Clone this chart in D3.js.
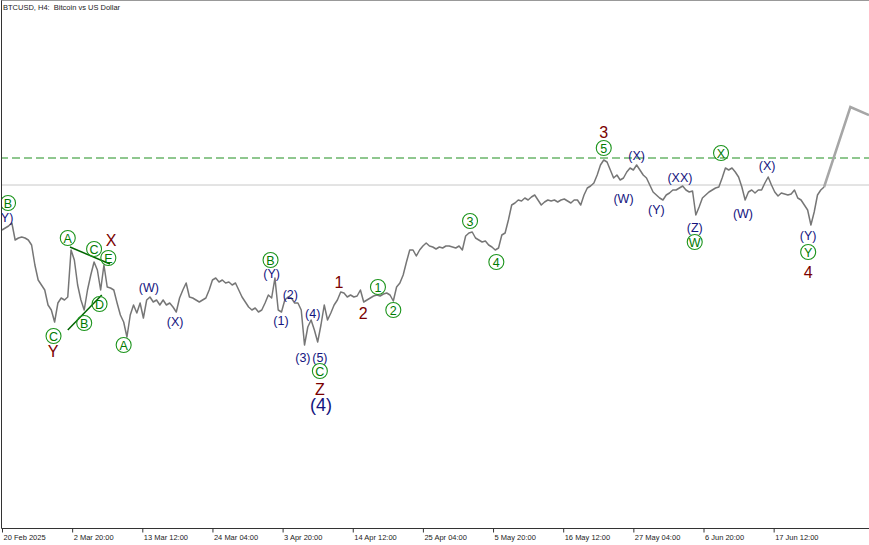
<!DOCTYPE html>
<html>
<head>
<meta charset="utf-8">
<script src="https://cdn.jsdelivr.net/npm/d3@7"></script>
<style>
html, body { margin: 0; padding: 0; background: #fff; }
svg { display: block; font-family: "Liberation Sans", Arial, sans-serif; }
</style>
</head>
<body>
<svg id="chart" width="869" height="545"></svg>
<script>
// BTCUSD H4, one close read every 3 bars (12h) from the first bar
const startTime = new Date(2025, 1, 20, 4, 0);
const barHours = 4;
const closeStep = 3;

const closes = [
    97600, 98000, 98400, 99000, 95600, 96000, 96200, 96000, 95600, 94600,
    90600, 87600, 86600, 85600, 82600, 81600, 79200, 83000, 84000, 83600,
    84200, 93600, 91600, 86600, 83600, 81600, 85600, 88600, 91200, 89600,
    85600, 90600, 86200, 86000, 85600, 83000, 80600, 79200, 76200, 80600,
    82600, 81000, 83000, 80000, 83600, 84200, 83200, 83600, 82600, 83600,
    82600, 83000, 82200, 81200, 84000, 85600, 87000, 84200, 84000, 83600,
    83200, 83600, 84000, 85600, 87600, 88000, 87200, 87600, 87000, 87200,
    86600, 87000, 85600, 84200, 83200, 82200, 81600, 82000, 81200, 81600,
    83000, 84600, 84000, 88000, 81600, 81200, 83600, 84200, 84000, 83000,
    83000, 81600, 74600, 78200, 79600, 77600, 75200, 78600, 82600, 79600,
    81000, 82600, 83600, 85200, 85000, 84200, 84600, 84200, 84400, 85600,
    83200, 83600, 84000, 84400, 84600, 84400, 84800, 85000, 84600, 83400,
    86200, 87000, 88600, 91200, 93600, 93600, 92400, 93600, 94400, 95000,
    94400, 94200, 93800, 94200, 94000, 94400, 94400, 94200, 94000, 94400,
    93600, 96400, 97000, 97200, 96000, 95600, 95200, 95400, 94600, 94200,
    93600, 94000, 96600, 97000, 99600, 102600, 103000, 103600, 103400, 104000,
    103600, 104200, 104600, 103600, 102600, 103200, 103600, 103400, 103600, 103200,
    103600, 103800, 103400, 103000, 103600, 103600, 102600, 104600, 106000, 106400,
    107000, 108600, 110600, 111600, 111200, 109600, 108000, 108600, 107600, 108000,
    109200, 110000, 109600, 110600, 109600, 108600, 108000, 106600, 105200, 104600,
    104000, 103600, 104600, 105000, 105600, 105600, 106000, 106400, 105600, 105200,
    105400, 100600, 102200, 104000, 104600, 105200, 105600, 106000, 106200, 108000,
    110000, 109600, 110000, 109200, 108200, 106200, 103600, 105200, 105600, 105000,
    105600, 105600, 107000, 108200, 106600, 105200, 104400, 105000, 104800, 104600,
    104800, 105600, 104000, 103600, 102600, 101600, 98600, 101200, 104600, 105600, 106200
];

// projected path after the last close (bar index, price)
const forecastBars = [774, 791];
const forecastPrices = [122200, 120600];

const currentPrice = 106600;
const resistancePrice = 112000;

const tickBars = [0, 64, 128, 192, 256, 320, 384, 448, 512, 576, 640, 704];
const tickLabels = ["20 Feb 2025", "2 Mar 20:00", "13 Mar 12:00", "24 Mar 04:00", "3 Apr 20:00",
    "14 Apr 12:00", "25 Apr 04:00", "5 May 20:00", "16 May 12:00", "27 May 04:00",
    "6 Jun 20:00", "17 Jun 12:00"];

// wave marks: text, bar, price, degree
const waveLabels = [
    ["B", 5.5, 103000, "circle"], ["(Y)", 2.7, 100200, "paren"],
    ["A", 60, 96000, "circle"], ["C", 84, 93800, "circle"], ["E", 97, 92000, "circle"],
    ["X", 99.5, 95600, "red"], ["D", 89, 82800, "circle"], ["B", 75, 79000, "circle"],
    ["C", 47, 76400, "circle"], ["Y", 46.5, 73400, "red"], ["A", 111, 74600, "circle"],
    ["(W)", 134, 86200, "paren"], ["(X)", 158, 79400, "paren"],
    ["B", 245, 91600, "circle"], ["(Y)", 246, 89000, "paren"],
    ["(1)", 254.5, 79600, "paren"], ["(2)", 263, 84800, "paren"], ["(3)", 274.5, 72200, "paren"],
    ["(4)", 283.5, 81000, "paren"], ["(5)", 290, 72200, "paren"],
    ["C", 290, 69400, "circle"], ["Z", 290, 65800, "red"], ["(4)", 291, 62600, "big"],
    ["1", 307.5, 87200, "red"], ["2", 329.5, 81000, "red"],
    ["1", 343, 86200, "circle"], ["2", 357, 81600, "circle"],
    ["3", 427, 99400, "circle"], ["4", 451, 91200, "circle"],
    ["3", 549, 117200, "red"], ["5", 549, 114000, "circle"],
    ["(X)", 579, 112600, "paren"], ["(W)", 567, 104000, "paren"], ["(Y)", 597, 101800, "paren"],
    ["(XX)", 618.5, 108200, "paren"], ["(Z)", 632, 98200, "paren"], ["W", 632, 95200, "circle"],
    ["X", 656, 113000, "circle"], ["(W)", 676, 101000, "paren"], ["(X)", 698, 110600, "paren"],
    ["(Y)", 735.5, 96600, "paren"], ["Y", 735.5, 93200, "circle"], ["4", 735.5, 89200, "red"]
];

// triangle boundary lines: [bar, price, bar, price]
const trendLines = [
    [62, 94200, 98.5, 90800],
    [60, 77600, 91, 84600]
];

const styles = {
    circle: { color: "#007a00", size: 12.5 },
    paren: { color: "#14147e", size: 12.5 },
    red: { color: "#7a0000", size: 16 },
    big: { color: "#14147e", size: 18 }
};

const width = 869, height = 545, axisY = 528.5;
const svg = d3.select("#chart");

const barTime = b => new Date(+startTime + b * barHours * 3600e3);
const x = d3.scaleTime().domain([barTime(0), barTime(768)]).range([2, 2 + 12 * 70.15]);
const y = d3.scaleLinear().domain([38000, 143600]).range([528, 0]);

svg.append("defs").append("clipPath").attr("id", "plot")
    .append("rect").attr("x", 1.5).attr("y", 0).attr("width", width).attr("height", axisY);

const plot = svg.append("g").attr("clip-path", "url(#plot)");

plot.append("line")
    .attr("x1", 0).attr("x2", width)
    .attr("y1", y(currentPrice)).attr("y2", y(currentPrice))
    .attr("stroke", "#c8c8c8").attr("stroke-width", 1);

plot.append("line")
    .attr("x1", 0).attr("x2", width)
    .attr("y1", y(resistancePrice)).attr("y2", y(resistancePrice))
    .attr("stroke", "#1f8f1f").attr("stroke-width", 1)
    .attr("stroke-dasharray", "8,4");

const line = d3.line()
    .x(d => x(barTime(d[0])))
    .y(d => y(d[1]));

plot.append("path")
    .datum(closes.map((c, i) => [i * closeStep, c]))
    .attr("fill", "none")
    .attr("stroke", "#767676")
    .attr("stroke-width", 1.5)
    .attr("stroke-linejoin", "round")
    .attr("d", line);

const lastBar = (closes.length - 1) * closeStep;
const forecast = [[lastBar, closes[closes.length - 1]]]
    .concat(forecastBars.map((b, i) => [b, forecastPrices[i]]));

plot.append("path")
    .datum(forecast)
    .attr("fill", "none")
    .attr("stroke", "#a6a6a6")
    .attr("stroke-width", 2.5)
    .attr("d", line);

trendLines.forEach(t => {
    plot.append("line")
        .attr("x1", x(barTime(t[0]))).attr("y1", y(t[1]))
        .attr("x2", x(barTime(t[2]))).attr("y2", y(t[3]))
        .attr("stroke", "#006400").attr("stroke-width", 1.5);
});

const marks = plot.selectAll(".wave").data(waveLabels).enter().append("g")
    .attr("class", "wave")
    .attr("transform", d => `translate(${x(barTime(d[1]))},${y(d[2])})`);

marks.filter(d => d[3] === "circle").append("circle")
    .attr("r", 7.5)
    .attr("fill", "none")
    .attr("stroke", "#1c941c")
    .attr("stroke-width", 1.1);

marks.append("text")
    .attr("text-anchor", "middle")
    .attr("dy", "0.36em")
    .attr("fill", d => styles[d[3]].color)
    .attr("font-size", d => styles[d[3]].size)
    .text(d => d[0]);

// frame
svg.append("line").attr("x1", 1.5).attr("x2", 1.5).attr("y1", 0).attr("y2", axisY)
    .attr("stroke", "#333");
svg.append("line").attr("x1", 1.5).attr("x2", width).attr("y1", 0.5).attr("y2", 0.5)
    .attr("stroke", "#999");

const axis = d3.axisBottom(x)
    .tickValues(tickBars.map(barTime))
    .tickFormat((d, i) => tickLabels[i])
    .tickSize(4)
    .tickSizeOuter(0)
    .tickPadding(2);

const ax = svg.append("g").attr("transform", `translate(0,${axisY})`).call(axis);
ax.select(".domain").attr("stroke", "#333").attr("d", `M1.5,0H${width}`);
ax.selectAll(".tick line").attr("stroke", "#333");
ax.selectAll(".tick text")
    .attr("text-anchor", "start")
    .attr("dx", 1)
    .attr("fill", "#222")
    .attr("font-size", 7.5)
    .attr("font-family", "\"Liberation Sans\", Arial, sans-serif");

svg.append("text")
    .attr("x", 3).attr("y", 10)
    .attr("font-size", 7.5)
    .attr("fill", "#222")
    .style("white-space", "pre")
    .text("BTCUSD, H4:  Bitcoin vs US Dollar");
</script>
</body>
</html>
